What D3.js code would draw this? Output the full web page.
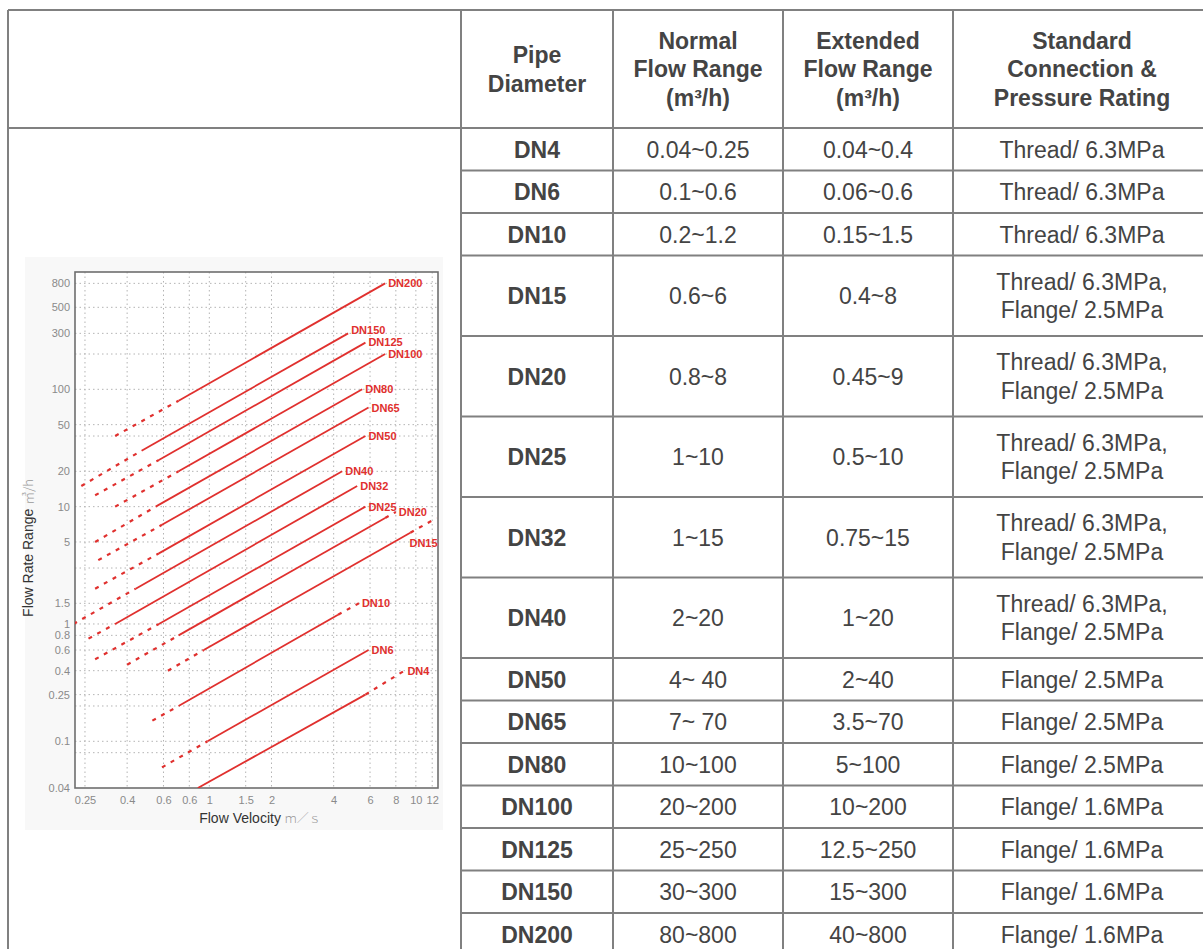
<!DOCTYPE html>
<html>
<head>
<meta charset="utf-8">
<script src="https://cdn.jsdelivr.net/npm/d3@7"></script>
<style>
  body { margin: 0; background: #fff; }
  svg { display: block; font-family: "Liberation Sans", Arial, sans-serif; }
</style>
</head>
<body>
<svg id="page" width="1203" height="949"></svg>
<script>
// table data
var pipes = ["DN4", "DN6", "DN10", "DN15", "DN20", "DN25", "DN32", "DN40",
             "DN50", "DN65", "DN80", "DN100", "DN125", "DN150", "DN200"];
var normalRange = ["0.04~0.25", "0.1~0.6", "0.2~1.2", "0.6~6", "0.8~8", "1~10", "1~15", "2~20",
                   "4~ 40", "7~ 70", "10~100", "20~200", "25~250", "30~300", "80~800"];
var extendedRange = ["0.04~0.4", "0.06~0.6", "0.15~1.5", "0.4~8", "0.45~9", "0.5~10", "0.75~15", "1~20",
                     "2~40", "3.5~70", "5~100", "10~200", "12.5~250", "15~300", "40~800"];
var connection = [
  ["Thread/ 6.3MPa"], ["Thread/ 6.3MPa"], ["Thread/ 6.3MPa"],
  ["Thread/ 6.3MPa,", "Flange/ 2.5MPa"], ["Thread/ 6.3MPa,", "Flange/ 2.5MPa"],
  ["Thread/ 6.3MPa,", "Flange/ 2.5MPa"], ["Thread/ 6.3MPa,", "Flange/ 2.5MPa"],
  ["Thread/ 6.3MPa,", "Flange/ 2.5MPa"],
  ["Flange/ 2.5MPa"], ["Flange/ 2.5MPa"], ["Flange/ 2.5MPa"],
  ["Flange/ 1.6MPa"], ["Flange/ 1.6MPa"], ["Flange/ 1.6MPa"], ["Flange/ 1.6MPa"]
];
var headers = [[], ["Pipe", "Diameter"], ["Normal", "Flow Range", "(m³/h)"],
               ["Extended", "Flow Range", "(m³/h)"], ["Standard", "Connection &", "Pressure Rating"]];

// flow velocity (m/s) at each end of the lines
var velExtLow   = [0.88, 0.59, 0.53, 0.63, 0.40, 0.28, 0.26, 0.22, 0.28, 0.29, 0.28, 0.35, 0.28, 0.24, 0.35];
var velNormLow  = [0.88, 0.98, 0.71, 0.94, 0.71, 0.57, 0.35, 0.44, 0.57, 0.59, 0.55, 0.71, 0.57, 0.47, 0.71];
var velNormHigh = [5.7, 5.9, 4.2, 9.4, 7.1, 5.7, 5.2, 4.4, 5.7, 5.9, 5.5, 7.1, 5.7, 4.7, 7.1];
var velExtHigh  = [8.8, 5.9, 5.3, 12.6, 8.0, 5.7, 5.2, 4.4, 5.7, 5.9, 5.5, 7.1, 5.7, 4.7, 7.1];

// chart axes
var xTicks = [0.25, 0.4, 0.6, 0.8, 1, 1.5, 2, 4, 6, 8, 10, 12];
var xTickLabels = ["0.25", "0.4", "0.6", "0.6", "1", "1.5", "2", "4", "6", "8", "10", "12"];
var yGrid = [800, 500, 300, 200, 100, 50, 40, 20, 10, 5, 3, 1.5, 1, 0.8, 0.6, 0.4, 0.25, 0.2, 0.1, 0.08];
var yTicks = [800, 500, 300, 100, 50, 20, 10, 5, 1.5, 1, 0.8, 0.6, 0.4, 0.25, 0.1, 0.04];

var svg = d3.select("#page");

// ---------- table ----------
var colX = [8, 461, 613, 783, 953, 1211];
var tableTop = 10, headBottom = 128;
var lineColor = "#808080", textColor = "#444";

var rowTop = [];
var yy = headBottom;
for (var i = 0; i < pipes.length; i++) {
  rowTop.push(yy);
  yy += connection[i].length > 1 ? 80.5 : 42.5;
}
var tableBottom = yy;

function range(s) { return s.split("~").map(function (t) { return parseFloat(t); }); }

var grid = svg.append("g");
grid.selectAll("line.h").data([tableTop, headBottom])
  .enter().append("line")
  .attr("x1", colX[0]).attr("x2", colX[5])
  .attr("y1", function (d) { return d; }).attr("y2", function (d) { return d; });
grid.selectAll("line.r").data(rowTop.slice(1).concat([tableBottom]))
  .enter().append("line")
  .attr("x1", colX[1]).attr("x2", colX[5])
  .attr("y1", function (d) { return d; }).attr("y2", function (d) { return d; });
grid.selectAll("line.v").data(colX)
  .enter().append("line")
  .attr("x1", function (d) { return d; }).attr("x2", function (d) { return d; })
  .attr("y1", tableTop).attr("y2", tableBottom);
grid.selectAll("line").attr("stroke", lineColor).attr("stroke-width", 2);

function cellText(g, lines, cx, cy, bold) {
  var lh = 28.5;
  var t = g.append("text")
    .attr("text-anchor", "middle")
    .attr("font-size", 23)
    .attr("font-weight", bold ? "bold" : "normal")
    .attr("fill", textColor);
  lines.forEach(function (s, k) {
    t.append("tspan")
      .attr("x", cx)
      .attr("y", cy + (k - (lines.length - 1) / 2) * lh + 8.3)
      .text(s);
  });
}

var tg = svg.append("g");
headers.forEach(function (h, c) {
  cellText(tg, h, (colX[c] + colX[c + 1]) / 2, (tableTop + headBottom) / 2, true);
});
pipes.forEach(function (p, i) {
  var h = connection[i].length > 1 ? 80.5 : 42.5;
  var cy = rowTop[i] + h / 2;
  cellText(tg, [p], (colX[1] + colX[2]) / 2, cy, true);
  cellText(tg, [normalRange[i]], (colX[2] + colX[3]) / 2, cy, false);
  cellText(tg, [extendedRange[i]], (colX[3] + colX[4]) / 2, cy, false);
  cellText(tg, connection[i], (colX[4] + colX[5]) / 2, cy, false);
});

// ---------- chart ----------
var red = "#e0302e";
var plot = { left: 75, right: 438, top: 272, bottom: 788 };

var x = d3.scaleLog().domain([0.2237, 12.8]).range([plot.left, plot.right]);
var y = d3.scaleLog().domain([0.04, 1000]).range([plot.bottom, plot.top]);

var cg = svg.append("g");
cg.append("rect").attr("x", 25).attr("y", 257).attr("width", 418).attr("height", 573)
  .attr("fill", "#f8f8f8");
cg.append("rect").attr("x", plot.left).attr("y", plot.top)
  .attr("width", plot.right - plot.left).attr("height", plot.bottom - plot.top)
  .attr("fill", "#fff");

// dotted grid
cg.append("g").selectAll("line").data(xTicks).enter().append("line")
  .attr("x1", function (d) { return x(d); }).attr("x2", function (d) { return x(d); })
  .attr("y1", plot.top).attr("y2", plot.bottom)
  .attr("stroke", "#b4b4b4").attr("stroke-width", 1).attr("stroke-dasharray", "1.5,3");
cg.append("g").selectAll("line").data(yGrid).enter().append("line")
  .attr("x1", plot.left).attr("x2", plot.right)
  .attr("y1", function (d) { return y(d); }).attr("y2", function (d) { return y(d); })
  .attr("stroke", "#b4b4b4").attr("stroke-width", 1).attr("stroke-dasharray", "1.5,3");

// axes
var yAxis = d3.axisLeft(y).tickValues(yTicks).tickSize(0).tickPadding(5)
  .tickFormat(d3.format("~g"));
var xAxis = d3.axisBottom(x).tickValues(xTicks).tickSize(0).tickPadding(8)
  .tickFormat(function (d, i) { return xTickLabels[i]; });

var ya = cg.append("g").attr("transform", "translate(" + plot.left + ",0)").call(yAxis);
var xa = cg.append("g").attr("transform", "translate(0," + plot.bottom + ")").call(xAxis);
[ya, xa].forEach(function (a) {
  a.select(".domain").remove();
  a.selectAll("text").attr("fill", "#8a8a8a").attr("font-size", 11)
    .attr("font-family", "'Liberation Sans', Arial, sans-serif");
});

// frame
cg.append("rect").attr("x", plot.left).attr("y", plot.top)
  .attr("width", plot.right - plot.left).attr("height", plot.bottom - plot.top)
  .attr("fill", "none").attr("stroke", "#6e6e6e").attr("stroke-width", 1.6);

// axis titles
var yt = cg.append("text")
  .attr("transform", "translate(33,548) rotate(-90)")
  .attr("text-anchor", "middle").attr("font-size", 14).attr("fill", "#333");
yt.append("tspan").text("Flow Rate Range ");
yt.append("tspan").attr("fill", "#999").attr("font-family", "'Noto Sans CJK SC', sans-serif")
  .attr("font-weight", 300).attr("font-size", 13).text("㎥/h");

var xt = cg.append("text")
  .attr("x", 260).attr("y", 823)
  .attr("text-anchor", "middle").attr("font-size", 14).attr("fill", "#333");
xt.append("tspan").text("Flow Velocity ");
xt.append("tspan").attr("fill", "#999").attr("font-family", "'Noto Sans CJK SC', sans-serif")
  .attr("font-weight", 300).attr("font-size", 12).text("ｍ／ｓ");

// pipe lines
svg.append("defs").append("clipPath").attr("id", "plotclip")
  .append("rect").attr("x", plot.left).attr("y", plot.top)
  .attr("width", plot.right - plot.left).attr("height", plot.bottom - plot.top);

var line = d3.line().x(function (d) { return x(d[0]); }).y(function (d) { return y(d[1]); });
var lg = cg.append("g").attr("clip-path", "url(#plotclip)");
var labels = cg.append("g");
var placed = [];

pipes.forEach(function (p, i) {
  var nr = range(normalRange[i]), er = range(extendedRange[i]);
  var a = [velExtLow[i], er[0]], b = [velNormLow[i], nr[0]],
      c = [velNormHigh[i], nr[1]], e = [velExtHigh[i], er[1]];

  lg.append("path").attr("d", line([b, c]))
    .attr("fill", "none").attr("stroke", red).attr("stroke-width", 1.8);
  if (er[0] < nr[0]) {
    lg.append("path").attr("d", line([a, b]))
      .attr("fill", "none").attr("stroke", red).attr("stroke-width", 2.2)
      .attr("stroke-dasharray", "4,6");
  }
  if (er[1] > nr[1]) {
    lg.append("path").attr("d", line([c, e]))
      .attr("fill", "none").attr("stroke", red).attr("stroke-width", 2.2)
      .attr("stroke-dasharray", "4,6");
  }

  var ex = x(e[0]), ey = y(e[1]);
  var lab = labels.append("text")
    .attr("x", ex + 3).attr("y", ey + 4)
    .attr("font-size", 11).attr("font-weight", "bold").attr("fill", red)
    .text(p);
  var w = lab.node().getComputedTextLength();
  var lx = ex + 3, ly = ey + 4;
  // no room on the right: put the label under the end of the line
  if (ex + 3 + w > plot.right) {
    lx = ex + 1 - w; ly = ey + 29;
    lab.attr("x", ex + 1).attr("y", ly).attr("text-anchor", "end");
  }
  // lift this label if it sits on top of a smaller pipe's label
  placed.forEach(function (q) {
    if (lx < q.x + q.w && q.x < lx + w && ly > q.y - 12) {
      ly = q.y - 12;
    }
  });
  lab.attr("y", ly);
  placed.push({ x: lx, y: ly, w: w });
});
</script>
</body>
</html>
